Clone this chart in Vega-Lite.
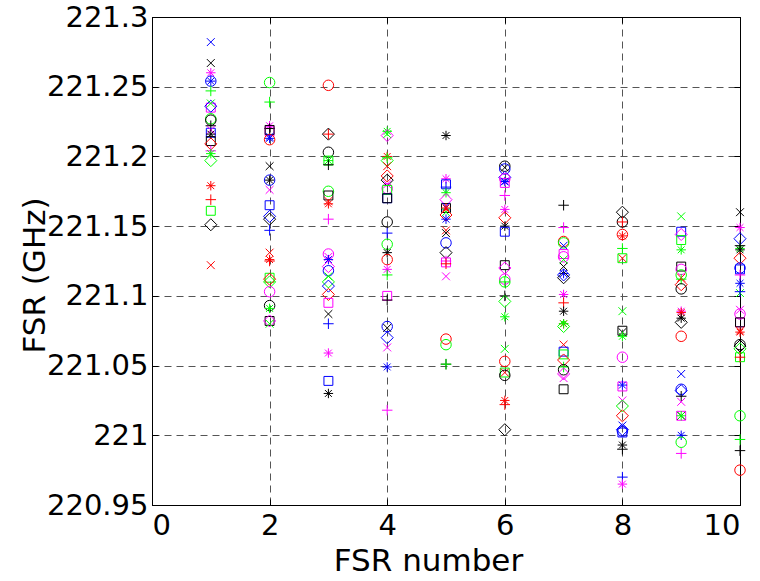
{
"$schema":"https://vega.github.io/schema/vega-lite/v6.json",
"autosize":"none",
"width":588,"height":488,
"padding":{"left":152,"top":17,"right":20,"bottom":76},
"background":"white",
"view":{"stroke":"black","strokeWidth":1},
"config":{"font":"DejaVu Sans","axis":{"labelFont":"DejaVu Sans","titleFont":"DejaVu Sans","labelColor":"black","titleColor":"black","titleFontWeight":"normal","domainColor":"black","tickColor":"black"}},
"data":{"values":[
{"n":1,"v":221.282,"c":"b","m":"x"},{"n":1,"v":221.267,"c":"k","m":"x"},{"n":1,"v":221.260,"c":"m","m":"*"},{"n":1,"v":221.254,"c":"b","m":"*"},{"n":1,"v":221.254,"c":"b","m":"o"},{"n":1,"v":221.247,"c":"g","m":"+"},{"n":1,"v":221.235,"c":"m","m":"s"},{"n":1,"v":221.236,"c":"b","m":"d"},{"n":1,"v":221.238,"c":"g","m":"x"},{"n":1,"v":221.227,"c":"g","m":"o"},{"n":1,"v":221.226,"c":"k","m":"o"},{"n":1,"v":221.222,"c":"k","m":"+"},{"n":1,"v":221.217,"c":"b","m":"s"},{"n":1,"v":221.219,"c":"m","m":"x"},{"n":1,"v":221.216,"c":"k","m":"*"},{"n":1,"v":221.211,"c":"k","m":"s"},{"n":1,"v":221.209,"c":"r","m":"d"},{"n":1,"v":221.204,"c":"m","m":"+"},{"n":1,"v":221.202,"c":"g","m":"*"},{"n":1,"v":221.197,"c":"g","m":"d"},{"n":1,"v":221.179,"c":"r","m":"*"},{"n":1,"v":221.169,"c":"r","m":"+"},{"n":1,"v":221.161,"c":"g","m":"s"},{"n":1,"v":221.151,"c":"k","m":"d"},{"n":1,"v":221.122,"c":"r","m":"x"},
{"n":2,"v":221.253,"c":"g","m":"o"},{"n":2,"v":221.239,"c":"g","m":"+"},{"n":2,"v":221.222,"c":"m","m":"*"},{"n":2,"v":221.220,"c":"k","m":"+"},{"n":2,"v":221.218,"c":"m","m":"s"},{"n":2,"v":221.219,"c":"k","m":"s"},{"n":2,"v":221.213,"c":"b","m":"*"},{"n":2,"v":221.212,"c":"r","m":"o"},{"n":2,"v":221.214,"c":"b","m":"x"},{"n":2,"v":221.193,"c":"k","m":"x"},{"n":2,"v":221.183,"c":"b","m":"o"},{"n":2,"v":221.183,"c":"k","m":"*"},{"n":2,"v":221.176,"c":"m","m":"x"},{"n":2,"v":221.165,"c":"b","m":"s"},{"n":2,"v":221.157,"c":"b","m":"d"},{"n":2,"v":221.155,"c":"k","m":"d"},{"n":2,"v":221.147,"c":"b","m":"+"},{"n":2,"v":221.131,"c":"r","m":"x"},{"n":2,"v":221.126,"c":"r","m":"*"},{"n":2,"v":221.125,"c":"r","m":"+"},{"n":2,"v":221.113,"c":"g","m":"s"},{"n":2,"v":221.112,"c":"r","m":"d"},{"n":2,"v":221.110,"c":"g","m":"d"},{"n":2,"v":221.103,"c":"m","m":"o"},{"n":2,"v":221.093,"c":"k","m":"o"},{"n":2,"v":221.091,"c":"g","m":"*"},{"n":2,"v":221.082,"c":"k","m":"s"},{"n":2,"v":221.082,"c":"m","m":"d"},{"n":2,"v":221.080,"c":"g","m":"x"},
{"n":3,"v":221.251,"c":"r","m":"o"},{"n":3,"v":221.216,"c":"k","m":"d"},{"n":3,"v":221.216,"c":"r","m":"+"},{"n":3,"v":221.203,"c":"k","m":"o"},{"n":3,"v":221.197,"c":"g","m":"*"},{"n":3,"v":221.197,"c":"g","m":"s"},{"n":3,"v":221.194,"c":"k","m":"+"},{"n":3,"v":221.175,"c":"g","m":"o"},{"n":3,"v":221.172,"c":"k","m":"s"},{"n":3,"v":221.168,"c":"r","m":"x"},{"n":3,"v":221.166,"c":"r","m":"*"},{"n":3,"v":221.155,"c":"m","m":"+"},{"n":3,"v":221.130,"c":"m","m":"o"},{"n":3,"v":221.128,"c":"m","m":"x"},{"n":3,"v":221.126,"c":"b","m":"*"},{"n":3,"v":221.121,"c":"m","m":"d"},{"n":3,"v":221.118,"c":"b","m":"o"},{"n":3,"v":221.114,"c":"g","m":"x"},{"n":3,"v":221.110,"c":"g","m":"d"},{"n":3,"v":221.107,"c":"b","m":"d"},{"n":3,"v":221.101,"c":"r","m":"d"},{"n":3,"v":221.095,"c":"m","m":"s"},{"n":3,"v":221.087,"c":"k","m":"x"},{"n":3,"v":221.080,"c":"b","m":"+"},{"n":3,"v":221.059,"c":"m","m":"*"},{"n":3,"v":221.039,"c":"b","m":"s"},{"n":3,"v":221.030,"c":"k","m":"*"},
{"n":4,"v":221.218,"c":"g","m":"*"},{"n":4,"v":221.215,"c":"m","m":"d"},{"n":4,"v":221.216,"c":"g","m":"x"},{"n":4,"v":221.200,"c":"r","m":"*"},{"n":4,"v":221.199,"c":"g","m":"+"},{"n":4,"v":221.197,"c":"g","m":"d"},{"n":4,"v":221.193,"c":"r","m":"x"},{"n":4,"v":221.186,"c":"r","m":"d"},{"n":4,"v":221.183,"c":"k","m":"d"},{"n":4,"v":221.180,"c":"m","m":"x"},{"n":4,"v":221.177,"c":"m","m":"o"},{"n":4,"v":221.176,"c":"g","m":"s"},{"n":4,"v":221.170,"c":"b","m":"s"},{"n":4,"v":221.170,"c":"k","m":"s"},{"n":4,"v":221.153,"c":"k","m":"o"},{"n":4,"v":221.145,"c":"b","m":"+"},{"n":4,"v":221.137,"c":"g","m":"o"},{"n":4,"v":221.131,"c":"k","m":"*"},{"n":4,"v":221.126,"c":"r","m":"o"},{"n":4,"v":221.119,"c":"m","m":"*"},{"n":4,"v":221.115,"c":"g","m":"+"},{"n":4,"v":221.100,"c":"m","m":"s"},{"n":4,"v":221.097,"c":"k","m":"+"},{"n":4,"v":221.078,"c":"b","m":"o"},{"n":4,"v":221.077,"c":"k","m":"x"},{"n":4,"v":221.070,"c":"b","m":"d"},{"n":4,"v":221.063,"c":"m","m":"x"},{"n":4,"v":221.049,"c":"b","m":"*"},{"n":4,"v":221.018,"c":"m","m":"+"},
{"n":5,"v":221.215,"c":"k","m":"*"},{"n":5,"v":221.184,"c":"m","m":"*"},{"n":5,"v":221.180,"c":"b","m":"s"},{"n":5,"v":221.178,"c":"b","m":"+"},{"n":5,"v":221.174,"c":"g","m":"*"},{"n":5,"v":221.169,"c":"m","m":"d"},{"n":5,"v":221.163,"c":"k","m":"s"},{"n":5,"v":221.164,"c":"b","m":"x"},{"n":5,"v":221.163,"c":"r","m":"*"},{"n":5,"v":221.160,"c":"g","m":"x"},{"n":5,"v":221.158,"c":"r","m":"d"},{"n":5,"v":221.155,"c":"b","m":"*"},{"n":5,"v":221.147,"c":"r","m":"x"},{"n":5,"v":221.145,"c":"k","m":"x"},{"n":5,"v":221.138,"c":"b","m":"o"},{"n":5,"v":221.131,"c":"k","m":"d"},{"n":5,"v":221.124,"c":"m","m":"s"},{"n":5,"v":221.125,"c":"m","m":"+"},{"n":5,"v":221.123,"c":"r","m":"+"},{"n":5,"v":221.114,"c":"m","m":"x"},{"n":5,"v":221.069,"c":"r","m":"o"},{"n":5,"v":221.065,"c":"g","m":"o"},{"n":5,"v":221.051,"c":"k","m":"+"},{"n":5,"v":221.051,"c":"g","m":"+"},
{"n":6,"v":221.193,"c":"k","m":"o"},{"n":6,"v":221.192,"c":"k","m":"x"},{"n":6,"v":221.191,"c":"b","m":"o"},{"n":6,"v":221.185,"c":"b","m":"d"},{"n":6,"v":221.184,"c":"m","m":"o"},{"n":6,"v":221.182,"c":"b","m":"*"},{"n":6,"v":221.181,"c":"m","m":"s"},{"n":6,"v":221.182,"c":"b","m":"x"},{"n":6,"v":221.172,"c":"m","m":"+"},{"n":6,"v":221.162,"c":"m","m":"*"},{"n":6,"v":221.156,"c":"r","m":"d"},{"n":6,"v":221.150,"c":"k","m":"*"},{"n":6,"v":221.146,"c":"b","m":"s"},{"n":6,"v":221.122,"c":"k","m":"s"},{"n":6,"v":221.120,"c":"m","m":"d"},{"n":6,"v":221.112,"c":"m","m":"o"},{"n":6,"v":221.110,"c":"g","m":"o"},{"n":6,"v":221.110,"c":"g","m":"+"},{"n":6,"v":221.100,"c":"k","m":"+"},{"n":6,"v":221.096,"c":"g","m":"d"},{"n":6,"v":221.085,"c":"g","m":"*"},{"n":6,"v":221.062,"c":"g","m":"x"},{"n":6,"v":221.053,"c":"r","m":"o"},{"n":6,"v":221.045,"c":"g","m":"s"},{"n":6,"v":221.045,"c":"r","m":"x"},{"n":6,"v":221.043,"c":"k","m":"o"},{"n":6,"v":221.025,"c":"r","m":"*"},{"n":6,"v":221.022,"c":"r","m":"+"},{"n":6,"v":221.004,"c":"k","m":"d"},
{"n":7,"v":221.165,"c":"k","m":"+"},{"n":7,"v":221.149,"c":"m","m":"+"},{"n":7,"v":221.139,"c":"r","m":"o"},{"n":7,"v":221.138,"c":"g","m":"o"},{"n":7,"v":221.136,"c":"b","m":"x"},{"n":7,"v":221.130,"c":"m","m":"s"},{"n":7,"v":221.128,"c":"m","m":"o"},{"n":7,"v":221.126,"c":"g","m":"x"},{"n":7,"v":221.121,"c":"k","m":"x"},{"n":7,"v":221.116,"c":"b","m":"*"},{"n":7,"v":221.115,"c":"b","m":"d"},{"n":7,"v":221.113,"c":"k","m":"d"},{"n":7,"v":221.101,"c":"m","m":"*"},{"n":7,"v":221.095,"c":"r","m":"+"},{"n":7,"v":221.089,"c":"k","m":"*"},{"n":7,"v":221.080,"c":"r","m":"*"},{"n":7,"v":221.078,"c":"g","m":"d"},{"n":7,"v":221.080,"c":"g","m":"*"},{"n":7,"v":221.065,"c":"r","m":"x"},{"n":7,"v":221.060,"c":"b","m":"s"},{"n":7,"v":221.058,"c":"g","m":"s"},{"n":7,"v":221.054,"c":"r","m":"d"},{"n":7,"v":221.049,"c":"g","m":"+"},{"n":7,"v":221.047,"c":"k","m":"o"},{"n":7,"v":221.044,"c":"m","m":"d"},{"n":7,"v":221.041,"c":"m","m":"x"},{"n":7,"v":221.033,"c":"k","m":"s"},
{"n":8,"v":221.160,"c":"k","m":"d"},{"n":8,"v":221.153,"c":"k","m":"o"},{"n":8,"v":221.153,"c":"r","m":"+"},{"n":8,"v":221.144,"c":"r","m":"o"},{"n":8,"v":221.143,"c":"r","m":"*"},{"n":8,"v":221.134,"c":"g","m":"+"},{"n":8,"v":221.127,"c":"r","m":"x"},{"n":8,"v":221.127,"c":"g","m":"s"},{"n":8,"v":221.089,"c":"g","m":"x"},{"n":8,"v":221.075,"c":"k","m":"s"},{"n":8,"v":221.074,"c":"k","m":"x"},{"n":8,"v":221.071,"c":"g","m":"*"},{"n":8,"v":221.056,"c":"m","m":"o"},{"n":8,"v":221.035,"c":"m","m":"s"},{"n":8,"v":221.036,"c":"b","m":"*"},{"n":8,"v":221.025,"c":"m","m":"x"},{"n":8,"v":221.021,"c":"g","m":"d"},{"n":8,"v":221.014,"c":"r","m":"d"},{"n":8,"v":221.007,"c":"b","m":"x"},{"n":8,"v":221.003,"c":"b","m":"o"},{"n":8,"v":221.002,"c":"b","m":"s"},{"n":8,"v":221.004,"c":"b","m":"d"},{"n":8,"v":220.993,"c":"k","m":"*"},{"n":8,"v":220.990,"c":"k","m":"+"},{"n":8,"v":220.970,"c":"b","m":"+"},{"n":8,"v":220.965,"c":"m","m":"*"},
{"n":9,"v":221.157,"c":"g","m":"x"},{"n":9,"v":221.146,"c":"b","m":"s"},{"n":9,"v":221.144,"c":"m","m":"d"},{"n":9,"v":221.140,"c":"g","m":"s"},{"n":9,"v":221.133,"c":"g","m":"*"},{"n":9,"v":221.121,"c":"k","m":"s"},{"n":9,"v":221.119,"c":"m","m":"o"},{"n":9,"v":221.115,"c":"g","m":"o"},{"n":9,"v":221.113,"c":"r","m":"x"},{"n":9,"v":221.112,"c":"g","m":"+"},{"n":9,"v":221.108,"c":"r","m":"d"},{"n":9,"v":221.105,"c":"k","m":"o"},{"n":9,"v":221.089,"c":"m","m":"*"},{"n":9,"v":221.088,"c":"r","m":"*"},{"n":9,"v":221.084,"c":"k","m":"*"},{"n":9,"v":221.081,"c":"k","m":"d"},{"n":9,"v":221.071,"c":"r","m":"o"},{"n":9,"v":221.044,"c":"b","m":"x"},{"n":9,"v":221.033,"c":"b","m":"o"},{"n":9,"v":221.032,"c":"b","m":"d"},{"n":9,"v":221.028,"c":"k","m":"+"},{"n":9,"v":221.024,"c":"m","m":"x"},{"n":9,"v":221.014,"c":"m","m":"s"},{"n":9,"v":221.014,"c":"k","m":"x"},{"n":9,"v":221.014,"c":"g","m":"*"},{"n":9,"v":221.000,"c":"b","m":"*"},{"n":9,"v":220.995,"c":"g","m":"o"},{"n":9,"v":220.987,"c":"m","m":"+"},
{"n":10,"v":221.160,"c":"k","m":"x"},{"n":10,"v":221.149,"c":"m","m":"*"},{"n":10,"v":221.141,"c":"b","m":"d"},{"n":10,"v":221.134,"c":"g","m":"*"},{"n":10,"v":221.136,"c":"k","m":"+"},{"n":10,"v":221.133,"c":"k","m":"*"},{"n":10,"v":221.127,"c":"r","m":"d"},{"n":10,"v":221.119,"c":"b","m":"s"},{"n":10,"v":221.120,"c":"b","m":"o"},{"n":10,"v":221.115,"c":"m","m":"+"},{"n":10,"v":221.109,"c":"b","m":"*"},{"n":10,"v":221.102,"c":"g","m":"x"},{"n":10,"v":221.103,"c":"b","m":"+"},{"n":10,"v":221.090,"c":"m","m":"x"},{"n":10,"v":221.087,"c":"m","m":"o"},{"n":10,"v":221.081,"c":"m","m":"s"},{"n":10,"v":221.081,"c":"k","m":"s"},{"n":10,"v":221.075,"c":"r","m":"x"},{"n":10,"v":221.074,"c":"r","m":"*"},{"n":10,"v":221.065,"c":"k","m":"o"},{"n":10,"v":221.064,"c":"k","m":"d"},{"n":10,"v":221.062,"c":"g","m":"d"},{"n":10,"v":221.056,"c":"g","m":"s"},{"n":10,"v":221.056,"c":"r","m":"+"},{"n":10,"v":221.014,"c":"g","m":"o"},{"n":10,"v":220.997,"c":"g","m":"+"},{"n":10,"v":220.989,"c":"k","m":"+"},{"n":10,"v":220.975,"c":"r","m":"o"}
]},
"layer":[
{"mark":{"type":"point","filled":false,"strokeWidth":1,"size":110,"opacity":1},
"encoding":{
"x":{"field":"n","type":"quantitative","scale":{"domain":[0,10],"nice":false,"zero":false},
"axis":{"orient":"bottom","title":"FSR number","values":[0,2,4,6,8,10],"grid":true,"gridColor":"#555","gridDash":[7,5],"gridWidth":1,"tickSize":-6,"labelPadding":12,"labelFontSize":29,"titleFontSize":31,"titleBaseline":"alphabetic","titleY":65,"titleX":276,"domain":true}},
"y":{"field":"v","type":"quantitative","scale":{"domain":[220.95,221.3],"nice":false,"zero":false},
"axis":{"orient":"left","title":"FSR (GHz)","values":[220.95,221,221.05,221.1,221.15,221.2,221.25,221.3],"format":".6~g","grid":true,"gridColor":"#555","gridDash":[7,5],"gridWidth":1,"tickSize":-6,"labelPadding":10,"labelFontSize":29,"titleFontSize":31,"titleBaseline":"alphabetic","titleX":-108,"titleY":258,"domain":true}},
"color":{"field":"c","type":"nominal","legend":null,"scale":{"domain":["b","g","r","k","m"],"range":["#0000ff","#00ff00","#ff0000","#000000","#ff00ff"]}},
"shape":{"field":"m","type":"nominal","legend":null,"scale":{"domain":["x","+","*","o","s","d"],"range":["M-0.75,-0.75L0.75,0.75M-0.75,0.75L0.75,-0.75","M-1,0L1,0M0,-1L0,1","M-0.9,0L0.9,0M0,-0.9L0,0.9M-0.65,-0.65L0.65,0.65M-0.65,0.65L0.65,-0.65","circle","M-0.85,-0.85L0.85,-0.85L0.85,0.85L-0.85,0.85Z","M-1.15,0L0,-1.15L1.15,0L0,1.15Z"]}}
}},
{"mark":{"type":"point","opacity":0},
"encoding":{
"x":{"field":"n","type":"quantitative","axis":{"orient":"top","title":null,"labels":false,"values":[0,2,4,6,8,10],"grid":false,"tickSize":-6,"domain":true}},
"y":{"field":"v","type":"quantitative","axis":{"orient":"right","title":null,"labels":false,"values":[220.95,221,221.05,221.1,221.15,221.2,221.25,221.3],"grid":false,"tickSize":-6,"domain":true}}
}}
],
"resolve":{"axis":{"x":"independent","y":"independent"}}
}
